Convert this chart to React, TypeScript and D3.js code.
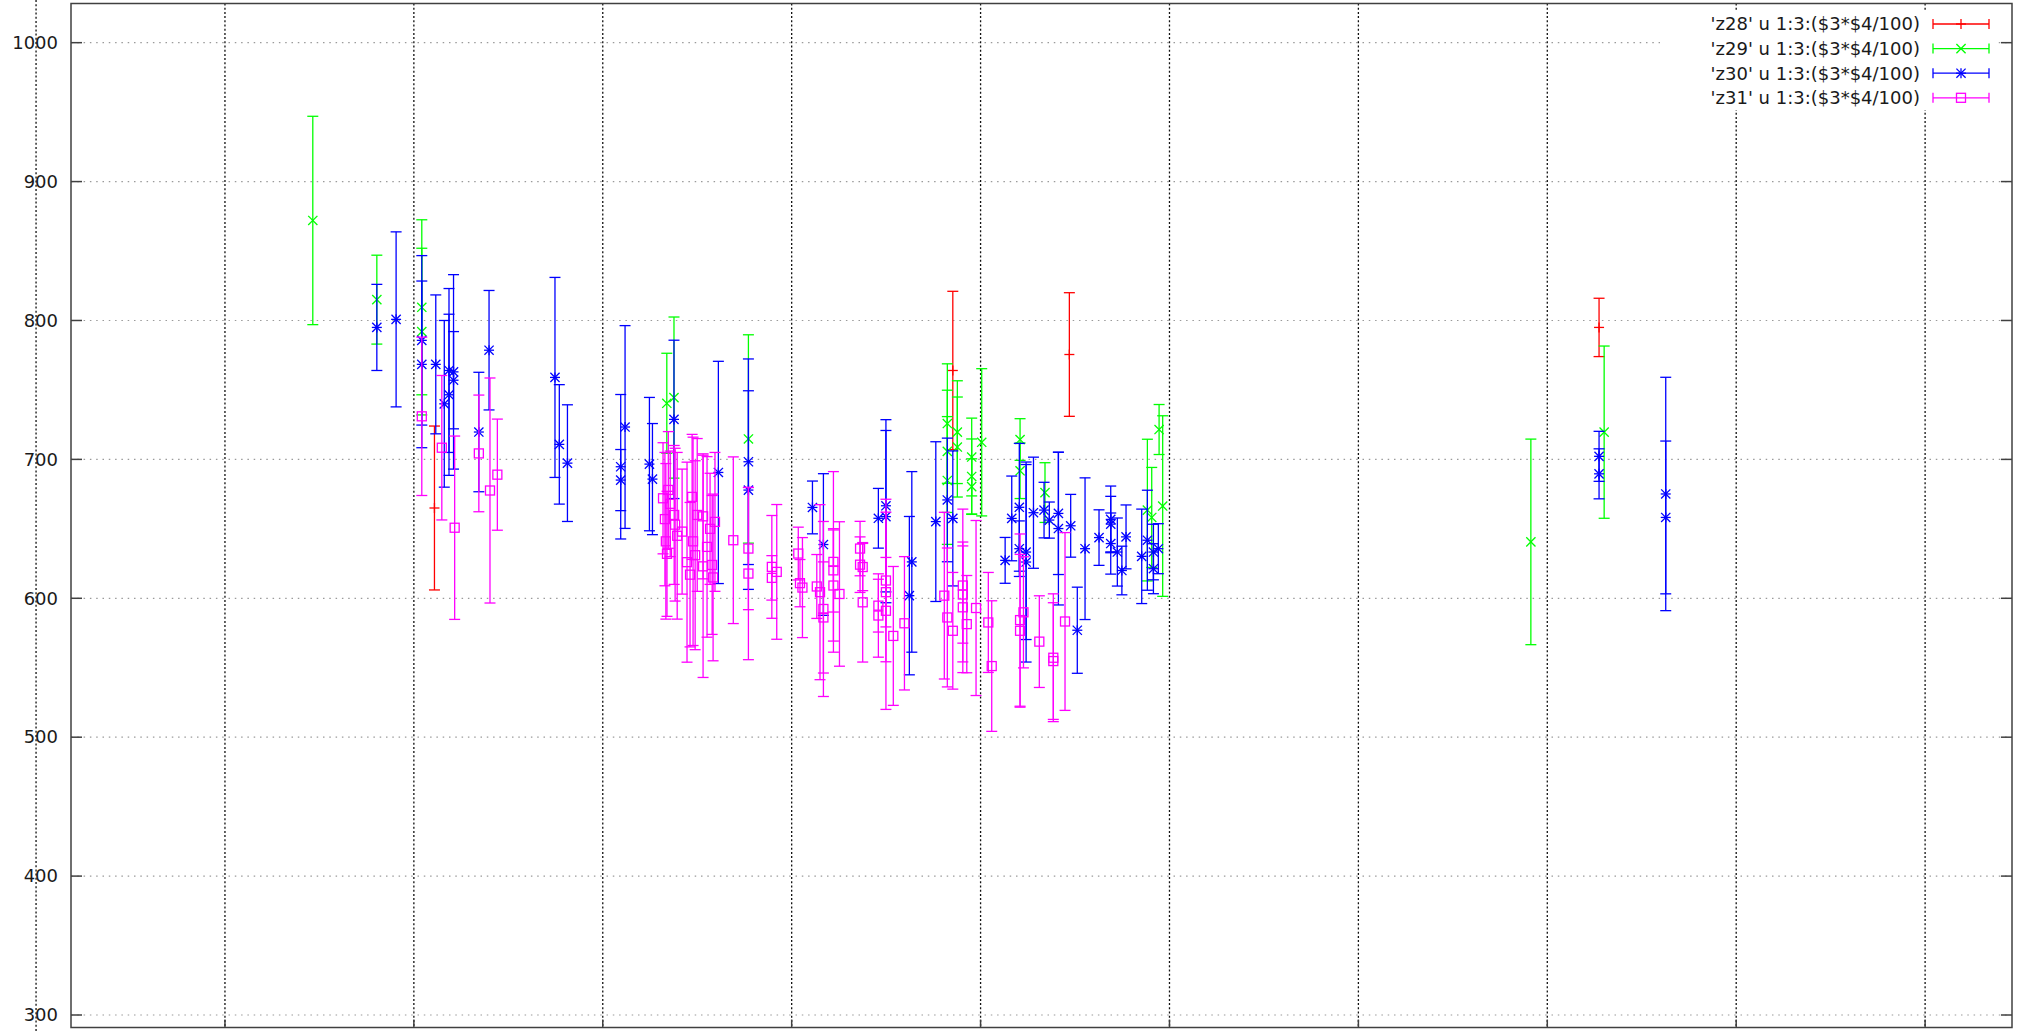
import * as d3 from "d3";
import React, { useEffect, useRef } from "react";

const width = 2024;
const height = 1032;

const yTicks = [300, 400, 500, 600, 700, 800, 900, 1000];
const xTicks = [0, 10, 20, 30, 40, 50, 60, 70, 80, 90, 100];

const seriesNames = [
  "'z28' u 1:3:($3*$4/100)",
  "'z29' u 1:3:($3*$4/100)",
  "'z30' u 1:3:($3*$4/100)",
  "'z31' u 1:3:($3*$4/100)",
];
const seriesColors = ["#ff0000", "#00ff00", "#0000ff", "#ff00ff"];
const seriesMarkers = ["plus", "cross", "star", "square"];

// [x, y, error]
const z28 = [
  [21.09, 665, 59],
  [48.53, 764, 57],
  [54.7, 775.5, 44.5],
  [82.74, 795, 21],
];

const z29 = [
  [14.65, 872, 75],
  [18.04, 815, 32],
  [20.42, 809.5, 63],
  [20.42, 792, 60],
  [33.39, 740.4, 36],
  [33.77, 744.5, 58],
  [37.71, 714.7, 75],
  [48.24, 725.8, 43],
  [48.24, 705.8, 44],
  [48.24, 684.8, 46],
  [48.77, 719.6, 37],
  [48.77, 708.9, 36],
  [49.53, 701.7, 28],
  [49.53, 687.7, 27],
  [49.53, 680.4, 20],
  [50.06, 712.3, 53],
  [52.09, 714.3, 15],
  [52.09, 691.8, 20],
  [53.41, 676.1, 21.5],
  [58.83, 663.5, 51],
  [59.06, 658.2, 36],
  [59.45, 721.5, 18],
  [59.64, 666.4, 65],
  [79.13, 640.6, 74],
  [83.01, 719.6, 62],
];

const z30 = [
  [18.04, 795, 31],
  [19.06, 800.8, 63],
  [20.42, 785.7, 61],
  [20.42, 768.4, 60],
  [21.16, 768.4, 50],
  [21.61, 740, 60],
  [21.86, 764, 59],
  [21.86, 746.5, 58],
  [22.1, 763, 70],
  [22.1, 757, 35],
  [23.44, 719.7, 43],
  [23.98, 778.6, 43],
  [27.47, 759, 72],
  [27.7, 710.8, 43],
  [28.13, 697.3, 42],
  [30.95, 694.7, 52],
  [30.95, 685.1, 22],
  [31.18, 723.3, 73],
  [32.47, 696.6, 48],
  [32.63, 685.8, 40],
  [33.77, 728.8, 57],
  [36.12, 690.6, 80],
  [37.71, 698.3, 74],
  [37.71, 677.9, 71.5],
  [41.1, 665.4, 19],
  [41.68, 638.7, 51],
  [44.59, 657.6, 21.5],
  [44.99, 666.6, 62],
  [44.99, 658.8, 62],
  [46.36, 626.2, 65],
  [46.23, 601.9, 57],
  [47.63, 655.2, 57.5],
  [48.24, 670.8, 44.5],
  [48.53, 657.5, 48.6],
  [51.3, 627.3, 16.5],
  [51.65, 657.5, 30.5],
  [52.05, 665.5, 46],
  [52.05, 635.7, 20],
  [52.41, 633.3, 63],
  [52.41, 626.1, 72],
  [52.8, 661.6, 40],
  [53.36, 663.5, 20],
  [53.64, 656.3, 13],
  [54.12, 661.1, 44],
  [54.12, 650.2, 55],
  [54.77, 652.2, 22.6],
  [55.12, 577, 31],
  [55.53, 635.7, 51],
  [56.27, 643.7, 20],
  [56.89, 656.8, 24],
  [56.89, 653.4, 20],
  [56.89, 639.4, 22],
  [57.24, 633.3, 24.5],
  [57.48, 620, 17.5],
  [57.7, 644.2, 23],
  [58.53, 630.2, 34],
  [58.83, 641.8, 36],
  [59.15, 633.3, 20],
  [59.15, 621.3, 18],
  [59.41, 635.7, 18],
  [82.74, 702.2, 18],
  [82.74, 689.6, 18],
  [86.27, 675.1, 84],
  [86.27, 658.2, 55],
];

const z31 = [
  [20.42, 731, 57],
  [21.48, 708.4, 52],
  [22.16, 650.8, 66],
  [23.44, 704.3, 42],
  [24.03, 677.6, 81],
  [24.42, 689, 40],
  [33.19, 672, 40],
  [33.29, 657, 48],
  [33.34, 641, 56],
  [33.4, 632, 45],
  [33.47, 678, 42],
  [33.57, 668, 38],
  [33.78, 660, 50],
  [33.83, 653, 55],
  [33.94, 645, 60],
  [34.2, 648, 45],
  [34.46, 626, 72],
  [34.62, 617, 52],
  [34.73, 673, 45],
  [34.78, 641, 75],
  [34.89, 631, 68],
  [35.0, 660, 55],
  [35.31, 659, 45],
  [35.31, 623, 80],
  [35.52, 637, 65],
  [35.68, 650, 40],
  [35.79, 624, 50],
  [35.84, 615, 60],
  [35.94, 655, 50],
  [36.91, 641.8, 60],
  [37.71, 635.8, 44],
  [37.71, 617.8, 62],
  [38.95, 622.6, 37],
  [38.95, 614.7, 16],
  [39.21, 619, 48.5],
  [40.35, 632.2, 19],
  [40.44, 610.9, 17],
  [40.57, 607.7, 36],
  [41.33, 608.5, 23],
  [41.5, 604.4, 63],
  [41.68, 592.3, 63],
  [41.68, 586.2, 40],
  [42.21, 626.2, 65],
  [42.21, 620.1, 30],
  [42.21, 609.2, 40],
  [42.53, 603.1, 52],
  [43.62, 635.8, 19.6],
  [43.62, 624.2, 20],
  [43.76, 622.5, 17],
  [43.76, 597.1, 43],
  [44.59, 594.7, 19],
  [44.59, 587.6, 30],
  [44.99, 612.8, 58.5],
  [44.99, 604.4, 25],
  [44.99, 591, 71],
  [45.38, 572.9, 50],
  [45.97, 582, 48],
  [48.08, 601.9, 60],
  [48.24, 586.2, 50],
  [48.53, 576.6, 42],
  [49.06, 609.2, 55],
  [49.06, 602.7, 35],
  [49.06, 593.5, 47],
  [49.27, 581.4, 35],
  [49.76, 593, 63],
  [50.41, 582.6, 36],
  [50.59, 551.2, 47],
  [52.09, 584.3, 62],
  [52.09, 576.6, 55],
  [52.27, 589.9, 40],
  [53.11, 568.8, 33],
  [53.85, 557.2, 46],
  [53.85, 554.8, 42],
  [54.47, 583.3, 64],
];

const allSeries = [z28, z29, z30, z31];

function App() {
  const ref = useRef(null);

  useEffect(() => {
    document.body.style.margin = "0";
    drawChart();
  }, []);

  function drawMarker(g, kind, cx, cy, color) {
    const s = 4.6;
    const line = (x1, y1, x2, y2) =>
      g.append("line")
        .attr("x1", x1).attr("y1", y1).attr("x2", x2).attr("y2", y2)
        .attr("stroke", color).attr("stroke-width", 1.3);
    if (kind === "plus" || kind === "star") {
      line(cx - 5, cy, cx + 5, cy);
      line(cx, cy - 5, cx, cy + 5);
    }
    if (kind === "cross" || kind === "star") {
      line(cx - s, cy - s, cx + s, cy + s);
      line(cx - s, cy + s, cx + s, cy - s);
    }
    if (kind === "square") {
      g.append("rect")
        .attr("x", cx - 4.5).attr("y", cy - 4.5)
        .attr("width", 9).attr("height", 9)
        .attr("fill", "none").attr("stroke", color).attr("stroke-width", 1.3);
    }
  }

  function drawChart() {
    const svg = d3.select(ref.current);
    svg.selectAll("*").remove();

    const left = 71, right = 2012, top = 3.5, bottom = 1027.5;

    const x = d3.scaleLinear().domain([1.85, 104.6]).range([left, right]);
    const y = d3.scaleLinear().domain([291, 1028.2]).range([bottom, top]);

    svg.append("rect").attr("width", width).attr("height", height).attr("fill", "#fff");

    // horizontal grid
    svg.append("g")
      .selectAll("line")
      .data(yTicks)
      .enter()
      .append("line")
      .attr("x1", left).attr("x2", right)
      .attr("y1", (d) => y(d)).attr("y2", (d) => y(d))
      .attr("stroke", "#9a9a9a")
      .attr("stroke-width", 1.2)
      .attr("stroke-dasharray", "1.5,4.8");

    // vertical grid
    svg.append("g")
      .selectAll("line")
      .data(xTicks)
      .enter()
      .append("line")
      .attr("x1", (d) => x(d)).attr("x2", (d) => x(d))
      .attr("y1", (d) => (x(d) < left ? 0 : top))
      .attr("y2", (d) => (x(d) < left ? height : bottom))
      .attr("stroke", "#111")
      .attr("stroke-width", 1.3)
      .attr("stroke-dasharray", "2,2.2");

    // key box blanks the grid behind it
    svg.append("rect")
      .attr("x", 1660).attr("y", 12)
      .attr("width", 338).attr("height", 98)
      .attr("fill", "#fff");

    // border
    svg.append("rect")
      .attr("x", left).attr("y", top)
      .attr("width", right - left).attr("height", bottom - top)
      .attr("fill", "none")
      .attr("stroke", "#404040")
      .attr("stroke-width", 1.5);

    const ticks = svg.append("g").attr("stroke", "#404040").attr("stroke-width", 1.5);
    yTicks.forEach((t) => {
      ticks.append("line").attr("x1", left).attr("x2", left + 11).attr("y1", y(t)).attr("y2", y(t));
      ticks.append("line").attr("x1", right).attr("x2", right - 11).attr("y1", y(t)).attr("y2", y(t));
    });
    xTicks.filter((t) => x(t) > left).forEach((t) => {
      ticks.append("line").attr("x1", x(t)).attr("x2", x(t)).attr("y1", bottom).attr("y2", bottom - 8);
    });

    svg.append("g")
      .selectAll("text")
      .data(yTicks)
      .enter()
      .append("text")
      .attr("x", 58)
      .attr("y", (d) => y(d))
      .attr("dy", "0.35em")
      .attr("text-anchor", "end")
      .attr("font-family", "DejaVu Sans")
      .attr("font-size", 18)
      .attr("fill", "#1a1a1a")
      .text((d) => d);

    // error bars
    allSeries.forEach((data, i) => {
      const color = seriesColors[i];
      const g = svg.append("g");
      data.forEach(([px, py, e]) => {
        const cx = x(px);
        const y0 = y(py - e), y1 = y(py + e);
        g.append("line").attr("x1", cx).attr("x2", cx).attr("y1", y0).attr("y2", y1)
          .attr("stroke", color).attr("stroke-width", 1.3);
        [y0, y1].forEach((yy) =>
          g.append("line").attr("x1", cx - 5.5).attr("x2", cx + 5.5).attr("y1", yy).attr("y2", yy)
            .attr("stroke", color).attr("stroke-width", 1.3));
        drawMarker(g, seriesMarkers[i], cx, y(py), color);
      });
    });

    // legend
    const legend = svg.append("g");
    seriesNames.forEach((name, i) => {
      const ly = 24 + i * 24.6;
      const color = seriesColors[i];
      legend.append("text")
        .attr("x", 1920).attr("y", ly).attr("dy", "0.35em")
        .attr("text-anchor", "end")
        .attr("font-family", "DejaVu Sans")
        .attr("font-size", 18)
        .attr("fill", "#1a1a1a")
        .text(name);
      legend.append("line").attr("x1", 1933).attr("x2", 1989).attr("y1", ly).attr("y2", ly)
        .attr("stroke", color).attr("stroke-width", 1.3);
      [1933, 1989].forEach((lx) =>
        legend.append("line").attr("x1", lx).attr("x2", lx).attr("y1", ly - 5).attr("y2", ly + 5)
          .attr("stroke", color).attr("stroke-width", 1.3));
      drawMarker(legend, seriesMarkers[i], 1961, ly, color);
    });
  }

  return <svg ref={ref} width={width} height={height} style={{ display: "block" }} />;
}

export default App;
